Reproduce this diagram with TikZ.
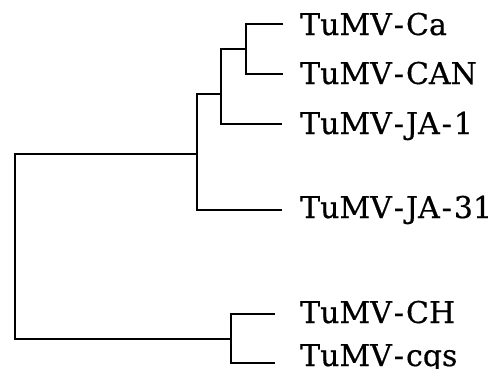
\documentclass[tikz,border=0pt]{standalone}
\usepackage{fontspec}
\setmainfont{DejaVu Serif}[FakeBold=0.5]
% spaced hyphen used in the strain names
\newcommand\strainhy{\kern2pt-\kern2pt}
\begin{document}
\begin{tikzpicture}[x=1pt,y=-1pt,
  branch/.style={draw=black,line width=1.5pt},
  leaf/.style={anchor=base west,inner sep=0pt,font=\fontsize{30}{36}\selectfont}]
\useasboundingbox (0,0) rectangle (501,368);
% leaf tips
\coordinate (tCa)   at (283,24);
\coordinate (tCAN)  at (283,74);
\coordinate (tJA1)  at (282,124);
\coordinate (tJA31) at (282,210);
\coordinate (tCH)   at (275,314);
\coordinate (tCQS)  at (275,363);
% internal nodes
\coordinate (n1)   at (246,49);
\coordinate (n2)   at (221,94);
\coordinate (n3)   at (197,154);
\coordinate (n4)   at (231,339);
\coordinate (root) at (15,246);
% branches
\draw[branch] (tCa) -| (n1) |- (tCAN);
\draw[branch] (n1) -| (n2) |- (tJA1);
\draw[branch] (n2) -| (n3) |- (tJA31);
\draw[branch] (tCH) -| (n4) |- (tCQS);
\draw[branch] (n3) -| (root) |- (n4);
% taxon labels
\node[leaf] (lCa)   at (300,35)  {TuMV\strainhy Ca};
\node[leaf] (lCAN)  at (300,84)  {TuMV\strainhy CAN};
\node[leaf] (lJA1)  at (300,134) {TuMV\strainhy JA\strainhy 1};
\node[leaf] (lJA31) at (300,218) {TuMV\strainhy JA\strainhy 31};
\node[leaf] (lCH)   at (300,323) {TuMV\strainhy CH};
\node[leaf] (lCQS)  at (300,366) {TuMV\strainhy cqs};
\end{tikzpicture}
\end{document}
